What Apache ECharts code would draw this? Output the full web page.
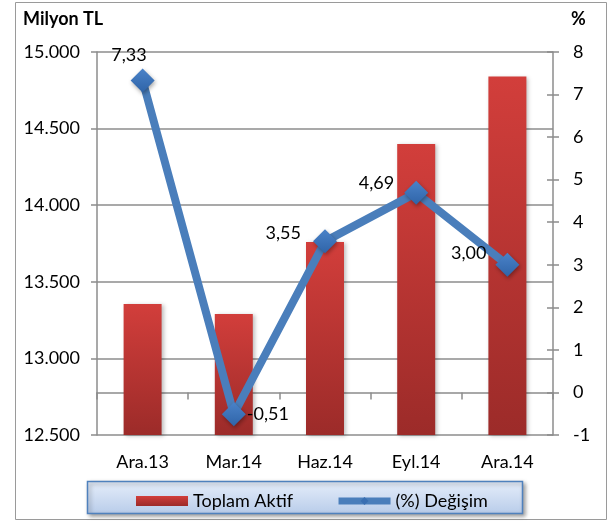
<!DOCTYPE html>
<html>
<head>
<meta charset="utf-8">
<script src="https://cdn.jsdelivr.net/npm/echarts@6/dist/echarts.min.js"></script>
<style>
  html, body { margin: 0; padding: 0; background: #fff; }
  #chart { width: 609px; height: 523px; }
</style>
</head>
<body>
<div id="chart"></div>
<script>
var categories = ['Ara.13', 'Mar.14', 'Haz.14', 'Eyl.14', 'Ara.14'];
var toplamAktif = [13355, 13290, 13760, 14400, 14840];
var degisim = [7.33, -0.51, 3.55, 4.69, 3.00];
// where each percent label sits next to its point
var labelPos = ['left', 'right', 'left', 'left', 'left'];
var labelOffset = [[22, -25], [-5, 0], [-6, -8], [-4, -10], [-3, -12]];

var FONT = 'Lato';

var chart = echarts.init(document.getElementById('chart'));

function fmtTL(v) {
  return String(v).replace(/\B(?=(\d{3})+(?!\d))/g, '.');
}

var lineData = degisim.map(function (v, i) {
  return {
    value: v,
    label: { position: labelPos[i], offset: labelOffset[i] }
  };
});

var option = {
  animation: false,
  grid: { left: 97, right: 56, top: 52, bottom: 88 },
  graphic: [
    {
      type: 'rect', z: -10,
      shape: { x: 15.5, y: 2.5, width: 591, height: 517 },
      style: { fill: '#fff', stroke: '#9a9a9a', lineWidth: 1 }
    },
    {
      type: 'rect', z: -5,
      shape: { x: 87.5, y: 481.5, width: 435, height: 32 },
      style: {
        fill: new echarts.graphic.LinearGradient(0, 0, 0, 1, [
          { offset: 0, color: '#e6eefa' },
          { offset: 1, color: '#b8ccea' }
        ]),
        stroke: '#4f81bd', lineWidth: 1.5,
        shadowBlur: 4, shadowColor: 'rgba(0,0,0,0.35)', shadowOffsetX: 2, shadowOffsetY: 2
      }
    },
    {
      type: 'text', left: 23, top: 10,
      style: { text: 'Milyon TL', font: 'bold 18px ' + FONT, fill: '#000' }
    },
    {
      type: 'text', left: 571, top: 10,
      style: { text: '%', font: 'bold 18px ' + FONT, fill: '#000' }
    }
  ],
  legend: {
    left: 131, top: 487,
    itemGap: 42,
    itemWidth: 52, itemHeight: 10,
    textStyle: { fontFamily: FONT, fontSize: 18, color: '#000' },
    data: [
      { name: 'Toplam Aktif', icon: 'rect' },
      {
        name: '(%) Değişim',
        lineStyle: { width: 7, color: '#4a7ebb' },
        itemStyle: { color: '#3a6fb2' }
      }
    ]
  },
  xAxis: {
    type: 'category',
    data: categories,
    axisLine: { lineStyle: { color: '#8c8c8c', width: 1.5 } },
    axisTick: { show: true, length: 7, lineStyle: { color: '#8c8c8c', width: 1.5 } },
    axisLabel: { fontFamily: FONT, fontSize: 18, color: '#000', margin: 18 }
  },
  yAxis: [
    {
      type: 'value', min: 12500, max: 15000, interval: 500,
      position: 'left',
      axisLine: { show: true, lineStyle: { color: '#8c8c8c', width: 1.5 } },
      axisTick: { show: true, length: 6, lineStyle: { color: '#8c8c8c', width: 1.5 } },
      splitLine: { show: true, lineStyle: { color: '#8c8c8c', width: 1.5 } },
      axisLabel: {
        fontFamily: FONT, fontSize: 18, color: '#000', margin: 17,
        formatter: fmtTL
      }
    },
    {
      type: 'value', min: -1, max: 8, interval: 1,
      position: 'right',
      axisLine: { show: true, lineStyle: { color: '#8c8c8c', width: 1.5 } },
      axisTick: { show: true, length: 6, lineStyle: { color: '#8c8c8c', width: 1.5 } },
      splitLine: { show: false },
      axisLabel: { fontFamily: FONT, fontSize: 18, color: '#000', margin: 20 }
    },
    {
      // inner half of the crossing ticks on the right axis
      type: 'value', min: -1, max: 8, interval: 1,
      position: 'right',
      axisLine: { show: false },
      axisTick: { show: true, inside: true, length: 6, lineStyle: { color: '#8c8c8c', width: 1.5 } },
      splitLine: { show: false },
      axisLabel: { show: false }
    }
  ],
  series: [
    {
      name: 'Toplam Aktif',
      type: 'bar',
      yAxisIndex: 0,
      barWidth: 38,
      data: toplamAktif,
      itemStyle: {
        color: new echarts.graphic.LinearGradient(0, 0, 0, 1, [
          { offset: 0, color: '#d23e3b' },
          { offset: 1, color: '#9c2b29' }
        ]),
        shadowBlur: 4, shadowColor: 'rgba(0,0,0,0.25)', shadowOffsetX: 2, shadowOffsetY: 1
      }
    },
    {
      name: '(%) Değişim',
      type: 'line',
      yAxisIndex: 1,
      data: lineData,
      symbol: 'diamond',
      symbolSize: 24,
      z: 5,
      lineStyle: { color: '#4a7ebb', width: 8 },
      itemStyle: {
        color: new echarts.graphic.LinearGradient(0, 0, 0, 1, [
          { offset: 0, color: '#4a82c8' },
          { offset: 1, color: '#2f64a8' }
        ]),
        shadowBlur: 4, shadowColor: 'rgba(0,0,0,0.35)', shadowOffsetX: 1, shadowOffsetY: 2
      },
      label: {
        show: true,
        distance: 6,
        fontFamily: FONT, fontSize: 18, color: '#000',
        formatter: function (p) { return p.value.toFixed(2).replace('.', ','); }
      }
    }
  ]
};

chart.setOption(option);
</script>
</body>
</html>
